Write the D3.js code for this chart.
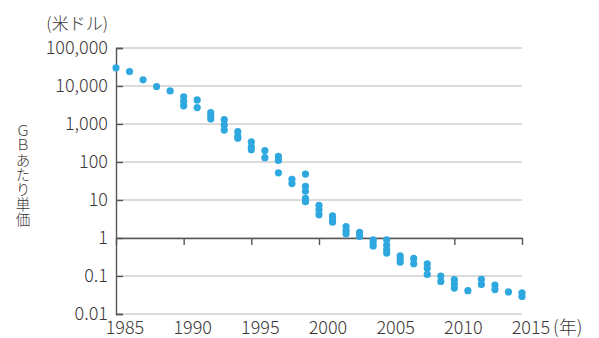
<!DOCTYPE html>
<html lang="ja">
<head>
  <meta charset="UTF-8">
  <title>GBあたり単価</title>
  <script src="https://d3js.org/d3.v7.min.js"></script>
  <style>
    body {
      margin: 0;
      background: #fff;
    }
    svg {
      display: block;
      font-family: "Noto Sans CJK JP", "Noto Sans", sans-serif;
      font-weight: 300;
    }
    .ytitle {
      writing-mode: vertical-rl;
      text-orientation: upright;
    }
  </style>
</head>
<body>
  <script>
    const width = 599;
    const height = 338;

    // chart values
    const years = [1985, 1986, 1987, 1988, 1989, 1990, 1991, 1992, 1993, 1994,
      1995, 1996, 1997, 1998, 1999, 2000, 2001, 2002, 2003, 2004,
      2005, 2006, 2007, 2008, 2009, 2010, 2011, 2012, 2013, 2014, 2015];
    const pricesPerGB = [
      [30000], [24000], [14500], [9700], [7400],
      [5200, 3900, 3000], [4300, 2700], [2000, 1650, 1350], [1300, 930, 690], [630, 480, 420],
      [340, 250, 210], [200, 130], [140, 110, 52], [35, 27], [48, 23, 17, 11, 9],
      [7.2, 5.5, 4.1], [3.8, 3.0, 2.6], [2.0, 1.6, 1.3], [1.4, 1.1], [0.9, 0.75, 0.62],
      [0.9, 0.65, 0.5, 0.4], [0.34, 0.28, 0.23], [0.29, 0.21], [0.21, 0.16, 0.11], [0.10, 0.072],
      [0.08, 0.062, 0.048], [0.041], [0.082, 0.06], [0.058, 0.044], [0.038], [0.036, 0.029]
    ];
    const yTicks = [100000, 10000, 1000, 100, 10, 1, 0.1, 0.01];
    const yTickLabels = ["100,000", "10,000", "1,000", "100", "10", "1", "0.1", "0.01"];
    const xTicks = [1985, 1990, 1995, 2000, 2005, 2010, 2015];
    const yTitle = "ＧＢあたり単価";
    const yUnit = "(米ドル)";
    const xUnit = "(年)";

    const points = years.flatMap((yr, i) => pricesPerGB[i].map(v => ({ year: yr, value: v })));

    const x = d3.scaleLinear().domain([1985, 2015]).range([116, 522]);
    const y = d3.scaleLog().domain([0.01, 100000]).range([314, 48]);

    const textColor = "#3b3737";
    const axisColor = "#5a5555";

    const svg = d3.select("body")
      .append("svg")
      .attr("width", width)
      .attr("height", height);

    // horizontal grid
    svg.append("g")
      .selectAll("line")
      .data(yTicks)
      .join("line")
      .attr("x1", x(1985))
      .attr("x2", x(2015))
      .attr("y1", d => y(d))
      .attr("y2", d => y(d))
      .attr("stroke", "#cfcfcf")
      .attr("stroke-width", 1.4);

    // left axis with inner ticks
    const yAxis = d3.axisRight(y)
      .tickValues(yTicks)
      .tickSize(7)
      .tickFormat("");
    const gy = svg.append("g")
      .attr("transform", `translate(${x(1985)},0)`)
      .call(yAxis);
    gy.select(".domain").attr("stroke", axisColor).attr("stroke-width", 1.4);
    gy.selectAll(".tick line").attr("stroke", axisColor).attr("stroke-width", 1.4);

    svg.append("g")
      .selectAll("text")
      .data(yTicks)
      .join("text")
      .attr("x", 108)
      .attr("y", d => y(d))
      .attr("dy", "0.36em")
      .attr("text-anchor", "end")
      .attr("font-size", 18)
      .attr("fill", textColor)
      .text((d, i) => yTickLabels[i]);

    // x axis through 1
    const xAxis = d3.axisBottom(x)
      .tickValues(xTicks)
      .tickSize(7)
      .tickSizeOuter(0)
      .tickFormat("");
    const gx = svg.append("g")
      .attr("transform", `translate(0,${y(1)})`)
      .call(xAxis);
    gx.select(".domain").attr("stroke", axisColor).attr("stroke-width", 1.4);
    gx.selectAll(".tick line").attr("stroke", axisColor).attr("stroke-width", 1.4);

    svg.append("g")
      .selectAll("text")
      .data(xTicks)
      .join("text")
      .attr("x", d => x(d) + 9)
      .attr("y", 334)
      .attr("text-anchor", "middle")
      .attr("font-size", 18)
      .attr("fill", textColor)
      .text(d => d);

    svg.append("text")
      .attr("x", x(2015) + 31)
      .attr("y", 334)
      .attr("font-size", 18)
      .attr("fill", textColor)
      .text(xUnit);

    svg.append("text")
      .attr("x", 108)
      .attr("y", 30)
      .attr("text-anchor", "end")
      .attr("font-size", 17)
      .attr("fill", textColor)
      .text(yUnit);

    // vertical title
    svg.append("text")
      .attr("class", "ytitle")
      .attr("x", 23)
      .attr("y", 123)
      .attr("font-size", 14.5)
      .attr("letter-spacing", 0.4)
      .attr("fill", textColor)
      .text(yTitle);

    // points
    svg.append("g")
      .selectAll("circle")
      .data(points)
      .join("circle")
      .attr("cx", d => x(d.year))
      .attr("cy", d => y(d.value))
      .attr("r", 3.6)
      .attr("fill", "#2fa8e0");
  </script>
</body>
</html>
